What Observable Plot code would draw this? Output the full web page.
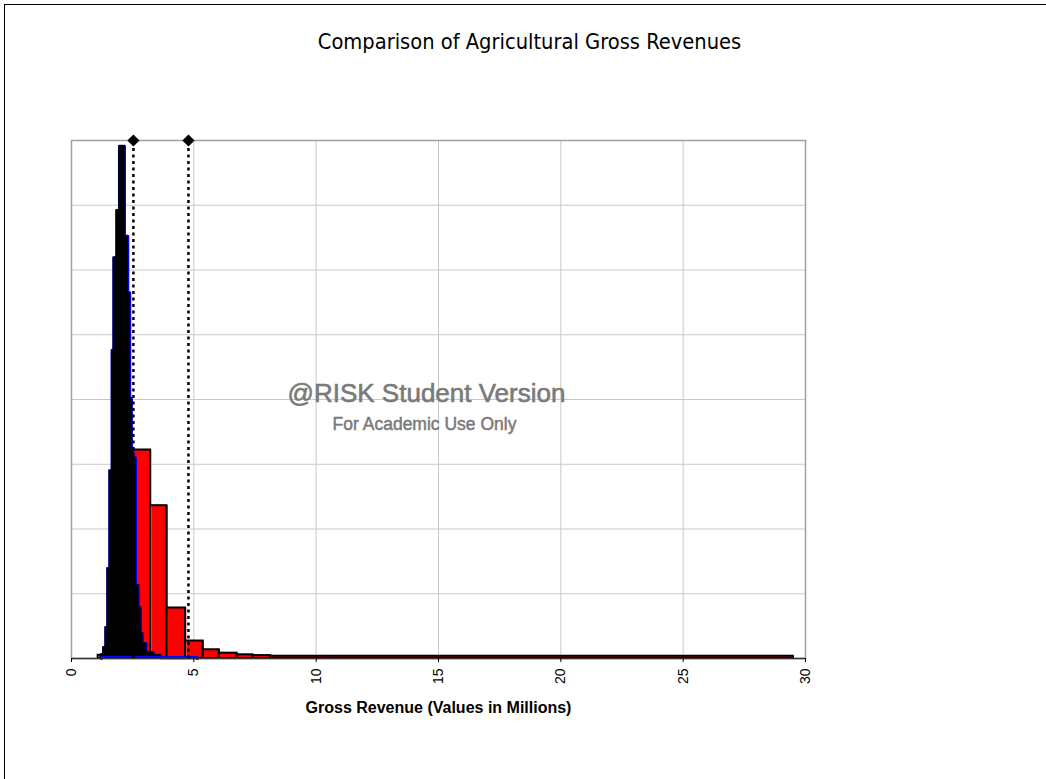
<!DOCTYPE html>
<html><head><meta charset="utf-8">
<script src="https://cdn.jsdelivr.net/npm/d3@7"></script>
<script src="https://cdn.jsdelivr.net/npm/@observablehq/plot@0.6"></script>
<style>
html,body{margin:0;padding:0;background:#fff;overflow:hidden;}
#wrap{position:relative;width:1046px;height:779px;overflow:hidden;}
#border{position:absolute;left:4px;top:4px;width:1100px;height:800px;border:1px solid #000;}
#title{position:absolute;left:0;top:30px;width:1059px;text-align:center;font-family:"Liberation Sans Narrow","DejaVu Sans Condensed","Liberation Sans",sans-serif;font-size:21.7px;line-height:24px;color:#000;}
#chart{position:absolute;left:0;top:0;}
</style></head>
<body><div id="wrap"><div id="border"></div><div id="title">Comparison of Agricultural Gross Revenues</div><div id="chart"></div></div>
<script>
// Black distribution (narrow bins): bin starts, ends, heights (grid units)
const blackX0 = [1.22, 1.31, 1.40, 1.48, 1.565, 1.66, 1.73, 1.85, 1.96, 2.06, 2.166, 2.30, 2.38, 2.45, 2.52, 2.615, 2.73, 2.82, 2.90, 3.05, 3.35, 3.65];
const blackX1 = [1.31, 1.40, 1.48, 1.565, 1.66, 1.73, 1.85, 1.96, 2.06, 2.166, 2.30, 2.38, 2.45, 2.52, 2.615, 2.73, 2.82, 2.90, 3.05, 3.35, 3.65, 5.15];
const blackH  = [0.06, 0.17, 0.48, 1.39, 2.90, 4.76, 6.19, 6.92, 7.91, 7.91, 6.52, 5.65, 4.02, 3.24, 3.10, 1.13, 0.79, 0.39, 0.23, 0.09, 0.05, 0.01];

// Red distribution (wide bins)
const redX0 = [1.09, 1.81, 2.52, 3.23, 3.90, 4.66, 5.38, 6.04, 6.77, 7.42, 8.14];
const redX1 = [1.81, 2.52, 3.23, 3.90, 4.66, 5.38, 6.04, 6.77, 7.42, 8.14, 29.5];
const redH  = [0.05, 1.80, 3.22, 2.36, 0.78, 0.27, 0.135, 0.082, 0.057, 0.045, 0.035];

// Marker lines (diamonds on top)
const markers = [2.53, 4.78];

const xTicks = [0, 5, 10, 15, 20, 25, 30];
const yGrid = [0, 1, 2, 3, 4, 5, 6, 7, 8];
const xLabel = "Gross Revenue (Values in Millions)";
const watermark = ["@RISK Student Version", "For Academic Use Only"];

const black = blackX0.map((x0, i) => ({x0, x1: blackX1[i], h: blackH[i]}));
const red = redX0.map((x0, i) => ({x0, x1: redX1[i], h: redH[i]}));
const outline = [{x: blackX0[0], y: 0}];
black.forEach(b => { outline.push({x: b.x0, y: b.h}); outline.push({x: b.x1, y: b.h}); });
outline.push({x: blackX1[blackX1.length - 1], y: 0});

const chart = Plot.plot({
  width: 1046, height: 779,
  marginLeft: 71, marginRight: 241, marginTop: 140, marginBottom: 121,
  x: {domain: [0, 30]},
  y: {domain: [0, 8], axis: null},
  style: {fontFamily: "'Liberation Sans', Arial, sans-serif", fontSize: "14px", color: "#000", background: "transparent"},
  marks: [
    Plot.gridX(xTicks, {stroke: "#c8c8c8", strokeOpacity: 1}),
    Plot.gridY(yGrid, {stroke: "#c8c8c8", strokeOpacity: 1}),
    Plot.frame({stroke: "#a0a0a0", strokeWidth: 1.5}),
    Plot.rectY(red, {x1: "x0", x2: "x1", y: "h", fill: "#ff0000", dx: 1.3}),
    Plot.rectY(red, {x1: "x0", x2: "x1", y: "h", fill: "none", stroke: "#000", strokeWidth: 2}),
    Plot.line(outline, {x: "x", y: "y", stroke: "#0000ff", strokeWidth: 3}),
    Plot.rectY(black, {x1: "x0", x2: "x1", y: "h", fill: "#000", stroke: "#000", strokeWidth: 1.5}),
    Plot.ruleY([0], {x1: blackX0[0], x2: blackX1[blackX1.length - 1], stroke: "#0000ff", strokeWidth: 3, dy: -1}),
    Plot.ruleY([0], {stroke: "#333", strokeWidth: 1.5}),
    Plot.ruleX(markers, {y1: 0, y2: 8, stroke: "#000", strokeWidth: 2.5, strokeDasharray: "3,3.5"}),
    Plot.dot(markers, {x: d => d, y: 8, symbol: "diamond2", fill: "#000", stroke: "none", r: 5.5}),
    Plot.axisX(xTicks, {tickRotate: -90, tickSize: 4, tickPadding: 6, label: null, fontSize: 14}),
    Plot.text([xLabel], {frameAnchor: "bottom", dy: 54, fontWeight: "bold", fontSize: 16}),
    Plot.text([watermark[0]], {frameAnchor: "middle", dx: -12, dy: -6, fontSize: 26, fill: "#7a7a7a", stroke: "#7a7a7a", strokeWidth: 0.6}),
    Plot.text([watermark[1]], {frameAnchor: "middle", dx: -14, dy: 25, fontSize: 17.5, fill: "#7a7a7a", stroke: "#7a7a7a", strokeWidth: 0.5})
  ]
});
document.getElementById("chart").appendChild(chart);
</script></body></html>
